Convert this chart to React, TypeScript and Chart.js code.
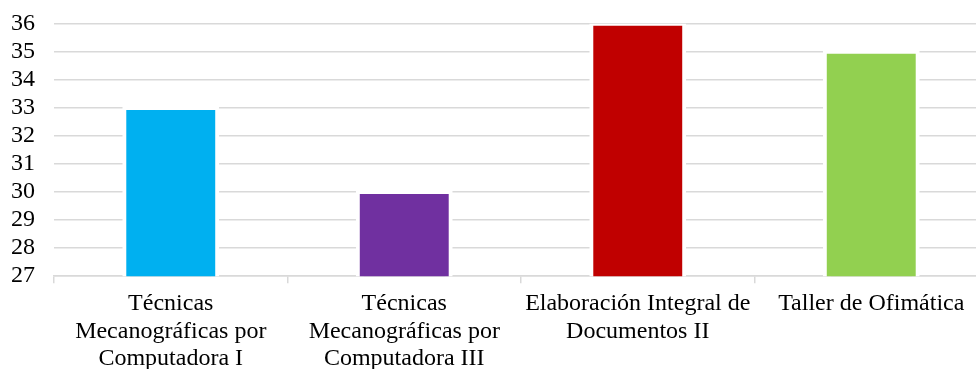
import React, { useEffect, useRef } from "react";
import { Chart, registerables } from "chart.js";

Chart.register(...registerables);

const categories: string[][] = [
  ["Técnicas", "Mecanográficas por", "Computadora I"],
  ["Técnicas", "Mecanográficas por", "Computadora III"],
  ["Elaboración Integral de", "Documentos II"],
  ["Taller de Ofimática"],
];
const values: number[] = [33, 30, 36, 35];
const barColors: string[] = ["#00B0F0", "#7030A0", "#C00000", "#92D050"];
const yMin = 27;
const yMax = 36;

const FONT = '"Liberation Serif", "Times New Roman", serif';

export default function App() {
  const ref = useRef<HTMLCanvasElement | null>(null);

  useEffect(() => {
    if (!ref.current) return;
    const chart = new Chart(ref.current, {
      type: "bar",
      data: {
        labels: categories,
        datasets: [
          {
            data: values,
            backgroundColor: barColors,
            borderColor: "#ffffff",
            borderWidth: 4,
            borderSkipped: "bottom",
            inflateAmount: 2,
            barPercentage: 0.398,
            categoryPercentage: 1,
          },
        ],
      },
      options: {
        responsive: false,
        animation: false,
        layout: { padding: { top: 0, left: 0, right: 0, bottom: 0 } },
        plugins: { legend: { display: false }, tooltip: { enabled: false } },
        scales: {
          x: {
            grid: {
              display: true,
              offset: true,
              drawOnChartArea: false,
              drawTicks: true,
              tickLength: 7,
              color: "#d9d9d9",
              lineWidth: 1.5,
            },
            border: { display: true, color: "#d9d9d9", width: 1.5 },
            ticks: {
              color: "#000",
              font: { family: FONT, size: 24, lineHeight: 1.15 },
              padding: 7,
              maxRotation: 0,
              autoSkip: false,
            },
          },
          y: {
            min: yMin,
            max: yMax,
            grid: { color: "#d9d9d9", lineWidth: 1.5, drawTicks: false },
            border: { display: false },
            ticks: {
              stepSize: 1,
              autoSkip: false,
              color: "#000",
              font: { family: FONT, size: 24, lineHeight: 1.15 },
              padding: 19,
            },
            afterFit: (scale: any) => {
              scale.width = 54;
            },
          },
        },
      },
    });
    return () => chart.destroy();
  }, []);

  return (
    <div
      style={{
        position: "absolute",
        left: 0,
        top: 0,
        width: 976,
        height: 369,
        overflow: "hidden",
        background: "#fff",
      }}
    >
      <canvas
        ref={ref}
        width={988}
        height={389}
        style={{ display: "block", position: "absolute", left: 0, top: -9 }}
      />
    </div>
  );
}
